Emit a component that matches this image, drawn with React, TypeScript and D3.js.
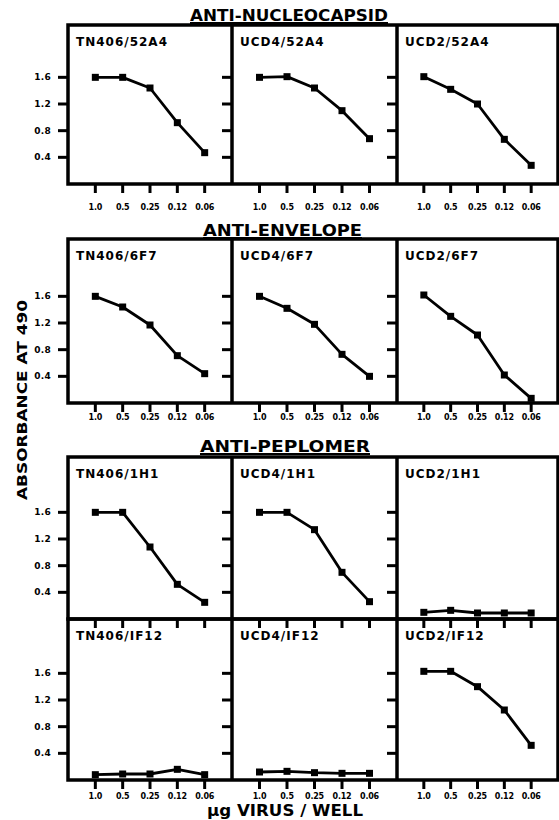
import * as d3 from "d3";

// data
const doses = ["1.0", "0.5", "0.25", "0.12", "0.06"];
const yTicks = [0.4, 0.8, 1.2, 1.6];
const strains = ["TN406", "UCD4", "UCD2"];
const antibodies = ["52A4", "6F7", "1H1", "IF12"];
const groupTitles = ["ANTI-NUCLEOCAPSID", "ANTI-ENVELOPE", "ANTI-PEPLOMER"];

// absorbance at 490, one array per strain (TN406, UCD4, UCD2)
const abs52A4 = [
  [1.6, 1.6, 1.44, 0.92, 0.47],
  [1.6, 1.61, 1.44, 1.1, 0.68],
  [1.61, 1.42, 1.2, 0.67, 0.28],
];
const abs6F7 = [
  [1.6, 1.44, 1.17, 0.71, 0.44],
  [1.6, 1.42, 1.18, 0.73, 0.4],
  [1.62, 1.3, 1.02, 0.42, 0.07],
];
const abs1H1 = [
  [1.6, 1.6, 1.08, 0.52, 0.25],
  [1.6, 1.6, 1.34, 0.7, 0.26],
  [0.1, 0.13, 0.09, 0.09, 0.09],
];
const absIF12 = [
  [0.08, 0.09, 0.09, 0.16, 0.08],
  [0.12, 0.13, 0.11, 0.1, 0.1],
  [1.63, 1.63, 1.4, 1.05, 0.52],
];

const rowData = [abs52A4, abs6F7, abs1H1, absIF12];

// layout
const W = 559, H = 820;
const font = "'DejaVu Sans', Arial, sans-serif";
const colX = [68, 232, 397, 558];
const rowBox = [
  { top: 25, bottom: 184, labelDy: 26 },
  { top: 239, bottom: 403, labelDy: 17 },
  { top: 457, bottom: 619, labelDy: 0 },
  { top: 619, bottom: 780, labelDy: 19 },
];
const titleBox = [
  { x0: 190, x1: 388, y: 21 },
  { x0: 203, x1: 362, y: 236 },
  { x0: 200, x1: 370, y: 452 },
];

function Panel({ r, c }: { r: number; c: number }) {
  const box = rowBox[r];
  const x = d3.scalePoint<string>().domain(doses).range([colX[c], colX[c + 1]]).padding(1);
  const y = d3.scaleLinear().domain([0, 2.4]).range([box.bottom, box.bottom - 160]);
  const values = rowData[r][c];
  const pts: [number, number][] = values.map((v, i) => [x(doses[i]) as number, y(v)]);
  const path = d3.line()(pts) || "";
  return (
    <g>
      {yTicks.map((t) => (
        <g key={t}>
          <line x1={colX[c] - 10} x2={colX[c]} y1={y(t)} y2={y(t)} stroke="#000" strokeWidth={3} />
          {c === 0 && (
            <text x={51} y={y(t) + 3} textAnchor="end" fontSize={9} fontWeight="bold"
              fontFamily={font} letterSpacing={0.3}>{t.toFixed(1)}</text>
          )}
        </g>
      ))}
      {doses.map((d) => (
        <g key={d}>
          <line x1={x(d)} x2={x(d)} y1={box.bottom} y2={box.bottom + 9} stroke="#000" strokeWidth={3} />
          {box.labelDy > 0 && (
            <text x={x(d)} y={box.bottom + box.labelDy} textAnchor="middle" fontSize={8}
              fontWeight="bold" fontFamily={font} letterSpacing={-0.2}>{d}</text>
          )}
        </g>
      ))}
      <text x={colX[c] + 8} y={box.top + 21} fontSize={12} fontWeight="bold" fontFamily={font}
        letterSpacing={1}>{`${strains[c]}/${antibodies[r]}`}</text>
      <path d={path} fill="none" stroke="#000" strokeWidth={2.8} strokeLinejoin="round" />
      {pts.map((p, i) => (
        <rect key={i} x={p[0] - 3.5} y={p[1] - 3.5} width={7} height={7} fill="#000" />
      ))}
    </g>
  );
}

export default function App() {
  return (
    <svg width={W} height={H} style={{ position: "absolute", left: 0, top: 0, background: "#fff" }}>
      <rect width={W} height={H} fill="#fff" />
      {titleBox.map((t, i) => (
        <g key={i}>
          <text x={t.x0} y={t.y} fontSize={16} fontWeight="bold" fontFamily={font}
            textLength={t.x1 - t.x0} lengthAdjust="spacingAndGlyphs">{groupTitles[i]}</text>
          <line x1={t.x0} x2={t.x1} y1={t.y + 2} y2={t.y + 2} stroke="#000" strokeWidth={2} />
        </g>
      ))}
      {rowBox.map((b, r) => (
        <g key={r}>
          <rect x={colX[0]} y={b.top} width={colX[3] - colX[0]} height={b.bottom - b.top}
            fill="none" stroke="#000" strokeWidth={3.5} />
          <line x1={colX[1]} x2={colX[1]} y1={b.top} y2={b.bottom} stroke="#000" strokeWidth={3.5} />
          <line x1={colX[2]} x2={colX[2]} y1={b.top} y2={b.bottom} stroke="#000" strokeWidth={3.5} />
          {strains.map((s, c) => <Panel key={s} r={r} c={c} />)}
        </g>
      ))}
      <text transform="translate(27,400) rotate(-90)" textAnchor="middle" fontSize={14}
        fontWeight="bold" fontFamily={font} textLength={200} lengthAdjust="spacingAndGlyphs">
        ABSORBANCE AT 490
      </text>
      <text x={207} y={816} fontSize={15} fontWeight="bold" fontFamily={font}
        textLength={156} lengthAdjust="spacingAndGlyphs">μg VIRUS / WELL</text>
    </svg>
  );
}
